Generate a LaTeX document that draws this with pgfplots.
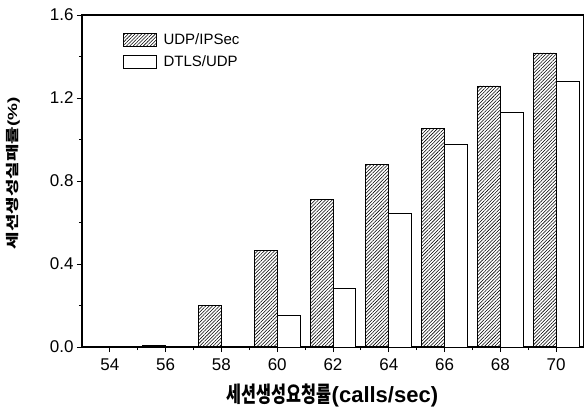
\documentclass[border=0pt]{standalone}
\usepackage{pgfplots}
\pgfplotsset{compat=1.18}
\usetikzlibrary{patterns.meta}
\usepackage{graphicx}
\usepackage{fontspec}
\setmainfont{Liberation Sans}
\newfontfamily\kr{Noto Sans CJK KR}
\begin{document}
\begin{tikzpicture}
\begin{axis}[
  at={(0,0)}, anchor=origin,
  scale only axis, width=502bp, height=332bp,
  xmin=53, xmax=71, ymin=0, ymax=1.6,
  xtick={54,56,...,70}, minor xtick={55,57,...,69},
  ytick={0,0.4,...,1.6}, minor ytick={0.2,0.6,1.0,1.4},
  tick align=outside, tick pos=left,
  major tick length=5bp, minor tick length=3bp,
  axis line style={line width=1.1bp},
  every tick/.style={black, line width=0.8bp},
  /pgf/number format/assume math mode=true,
  tick label style={font=\fontsize{17bp}{19bp}\selectfont},
  xticklabel style={yshift=-3bp},
  yticklabel style={/pgf/number format/.cd, fixed, fixed zerofill, precision=1},
  xlabel={\bfseries\scalebox{0.74}[1]{\kr\fontsize{22bp}{24bp}\selectfont 세션생성요청률}{\fontsize{22bp}{24bp}\selectfont(calls/sec)}},
  ylabel={\bfseries\scalebox{1}[0.7]{{\kr\fontsize{19bp}{21bp}\selectfont 세션생성실패률}{\fontsize{19bp}{21bp}\selectfont(\%)}}},
  xlabel style={at={(axis description cs:0.499,-0.145)}, anchor=center},
  ylabel style={at={(axis description cs:-0.1375,0.523)}, anchor=center},
  legend style={draw=none, fill=none, at={(axis description cs:0.082,0.948)}, anchor=north west,
    font=\fontsize{15bp}{17bp}\selectfont, row sep=6bp, inner sep=0pt,
    nodes={inner sep=1.5bp},
    /tikz/every odd column/.append style={column sep=5bp}},
  legend cell align=left,
  legend image code/.code={\draw[#1, line width=0.7bp] (0bp,-6.5bp) rectangle (33bp,6.5bp);},
]
\addplot[ybar, bar width=0.82, bar shift=-0.41, draw=black, line width=0.9bp,
  pattern={Lines[angle=45, distance=2.4bp, line width=0.55bp]}, pattern color=black] coordinates {
(54,0) (56,0.006) (58,0.198) (60,0.467) (62,0.713) (64,0.88) (66,1.055) (68,1.258) (70,1.417)};
\addlegendentry{UDP/IPSec}
\addplot[ybar, bar width=0.82, bar shift=0.41, draw=black, line width=0.9bp, fill=white] coordinates {
(54,0) (56,0) (58,0) (60,0.154) (62,0.284) (64,0.644) (66,0.977) (68,1.131) (70,1.282)};
\addlegendentry{DTLS/UDP}
\end{axis}
\pgfresetboundingbox
\path[use as bounding box] (-82bp,-63bp) rectangle (502bp,347bp);
\end{tikzpicture}
\end{document}
